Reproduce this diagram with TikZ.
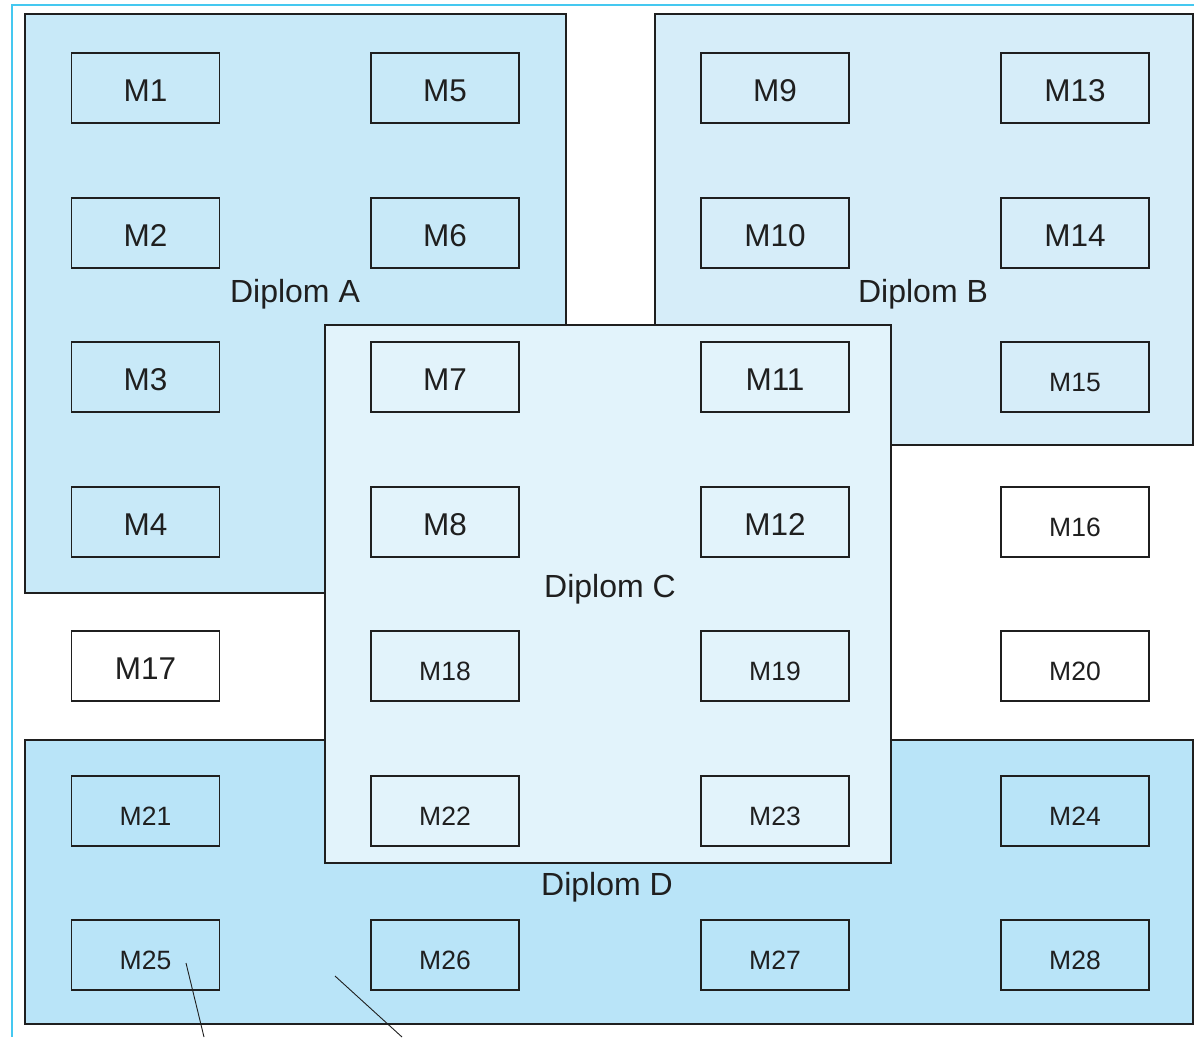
\documentclass[tikz,border=0pt]{standalone}
\usepackage{fontspec}
\setmainfont{Liberation Sans}
\begin{document}
\begin{tikzpicture}[x=1pt,y=-1pt,
  ink/.style={draw=black!88, line width=1.8pt},
  region/.style={ink, inner sep=0pt},
  modbox/.style={ink, minimum width=148pt, minimum height=70pt, inner sep=0pt, text=black!88},
  big/.style={font=\fontsize{31.5}{34}\selectfont, text height=26pt, text depth=0pt},
  small/.style={font=\fontsize{26.5}{30}\selectfont, text height=28pt, text depth=0pt},
  lbl/.style={font=\fontsize{32}{34}\selectfont, text=black!88, inner sep=0pt}]
\definecolor{fillA}{HTML}{C8E9F8}
\definecolor{fillB}{HTML}{D6EDF9}
\definecolor{fillC}{HTML}{E2F3FB}
\definecolor{fillD}{HTML}{B9E4F8}
\definecolor{frame}{HTML}{45C8F0}
\useasboundingbox (0,0) rectangle (1194,1037);
\fill[white] (0,0) rectangle (1194,1037);
% outer frame lines
\coordinate (f1) at (1194,5);
\coordinate (f2) at (12,5);
\coordinate (f3) at (12,1037);
\draw[frame, line width=1.6pt] (f1) -- (f2) -- (f3);
% regions
\node[region, fill=fillA, minimum width=541pt, minimum height=579pt] (A) at (295.5,303.5) {};
\node[region, fill=fillB, minimum width=538pt, minimum height=431pt] (B) at (924,229.5) {};
\node[region, fill=fillD, minimum width=1168pt, minimum height=284pt] (D) at (609,882) {};
\node[region, fill=fillC, minimum width=566pt, minimum height=538pt] (C) at (608,594) {};
% region labels
\node[lbl] (lA) at (295,294) {Diplom A};
\node[lbl] (lB) at (923,294) {Diplom B};
\node[lbl] (lC) at (610,589) {Diplom C};
\node[lbl] (lD) at (607,887) {Diplom D};
% modules
\node[modbox, big] (m1) at (145.5,88) {M1};
\node[modbox, big] (m2) at (145.5,233) {M2};
\node[modbox, big] (m3) at (145.5,377) {M3};
\node[modbox, big] (m4) at (145.5,522) {M4};
\node[modbox, big, fill=white] (m17) at (145.5,666) {M17};
\node[modbox, small] (m21) at (145.5,811) {M21};
\node[modbox, small] (m25) at (145.5,955) {M25};
\node[modbox, big] (m5) at (445,88) {M5};
\node[modbox, big] (m6) at (445,233) {M6};
\node[modbox, big] (m7) at (445,377) {M7};
\node[modbox, big] (m8) at (445,522) {M8};
\node[modbox, small] (m18) at (445,666) {M18};
\node[modbox, small] (m22) at (445,811) {M22};
\node[modbox, small] (m26) at (445,955) {M26};
\node[modbox, big] (m9) at (775,88) {M9};
\node[modbox, big] (m10) at (775,233) {M10};
\node[modbox, big] (m11) at (775,377) {M11};
\node[modbox, big] (m12) at (775,522) {M12};
\node[modbox, small] (m19) at (775,666) {M19};
\node[modbox, small] (m23) at (775,811) {M23};
\node[modbox, small] (m27) at (775,955) {M27};
\node[modbox, big] (m13) at (1075,88) {M13};
\node[modbox, big] (m14) at (1075,233) {M14};
\node[modbox, small] (m15) at (1075,377) {M15};
\node[modbox, small, fill=white] (m16) at (1075,522) {M16};
\node[modbox, small, fill=white] (m20) at (1075,666) {M20};
\node[modbox, small] (m24) at (1075,811) {M24};
\node[modbox, small] (m28) at (1075,955) {M28};
% pointer lines
\coordinate (p1a) at (186,963);
\coordinate (p1b) at (204,1037);
\coordinate (p2a) at (335,976);
\coordinate (p2b) at (402,1037);
\draw[black!88, line width=0.9pt] (p1a) -- (p1b);
\draw[black!88, line width=0.9pt] (p2a) -- (p2b);
\end{tikzpicture}
\end{document}
